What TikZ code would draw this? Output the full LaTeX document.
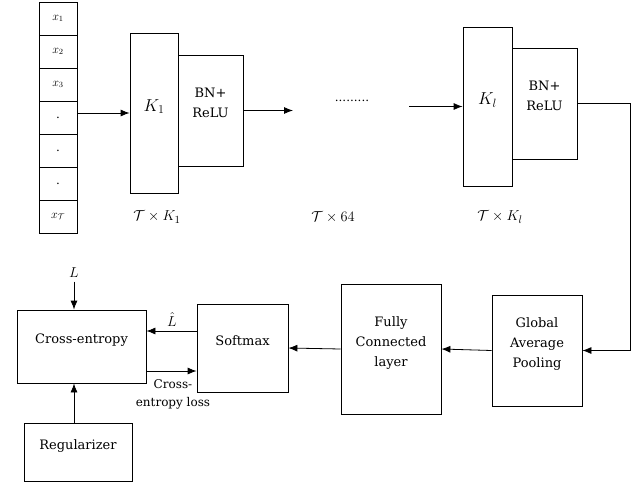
\documentclass[tikz,border=0pt]{standalone}
\usepackage{fontspec}
\setmainfont{DejaVu Serif}
\usetikzlibrary{arrows.meta}
\begin{document}
\begin{tikzpicture}[x=1pt,y=-1pt,line width=0.8pt,>={Latex[length=9pt,width=7pt]},
  box/.style={rectangle,draw=black,inner sep=0pt,align=center,text depth=15pt,font=\fontsize{13}{20}\selectfont},
  cell/.style={rectangle,draw=black,inner sep=0pt,minimum width=38pt,minimum height=33pt,font=\fontsize{12}{13}\selectfont},
  dim/.style={font=\fontsize{15}{17}\selectfont}]
\useasboundingbox (0,0) rectangle (641,485);
% input sequence
\node[cell] (c1) at (58,18.5) {$x_1$};
\node[cell] (c2) at (58,51.5) {$x_2$};
\node[cell] (c3) at (58,84.5) {$x_3$};
\node[cell] (c4) at (58,117.5) {.};
\node[cell] (c5) at (58,150.5) {.};
\node[cell] (c6) at (58,183.5) {.};
\node[cell] (c7) at (58,216.5) {$x_{\mathcal{T}}$};
% first block
\node[box,minimum width=48pt,minimum height=160pt] (k1) at (154,113) {\fontsize{17}{19}\selectfont$K_1$};
\node[box,minimum width=65pt,minimum height=111pt] (bn1) at (210.5,110.5) {BN+\\ReLU};
\draw[->] (c4.east |- 0,113) -- (k1.west |- 0,113);
\coordinate (mid) at (293,110.5);
\draw[->] (bn1.east) -- (mid);
\node[dim] (d1) at (157,217) {$\mathcal{T}\times K_1$};
% middle
\node[font=\fontsize{12}{14}\selectfont] (dots) at (352,101) {.........};
\node[dim] (d2) at (333,217) {$\mathcal{T}\times 64$};
% last block
\node[box,minimum width=49pt,minimum height=159pt] (kl) at (487.5,106.5) {\fontsize{17}{19}\selectfont$K_l$};
\node[box,minimum width=65pt,minimum height=111pt] (bn2) at (544.5,103.5) {BN+\\ReLU};
\coordinate (start) at (409,106.5);
\draw[->] (start) -- (kl.west);
\node[dim] (d3) at (500,217) {$\mathcal{T}\times K_l$};
% classifier
\node[box,minimum width=90pt,minimum height=111pt] (gap) at (537,350.5) {Global\\Average\\Pooling};
\node[box,minimum width=100pt,minimum height=130pt] (fc) at (391,349) {Fully\\Connected\\layer};
\node[box,minimum width=91pt,minimum height=88pt] (soft) at (242.5,348) {Softmax};
\node[box,minimum width=129pt,minimum height=73pt] (ce) at (81.5,346.5) {Cross-entropy};
\node[box,minimum width=108pt,minimum height=58pt] (reg) at (78,452) {Regularizer};
\coordinate (turn) at (630,0);
\draw[->] (bn2.east) -- (bn2.east -| turn) |- (gap.east);
\draw[->] (gap.west) -- (fc.east);
\draw[->] (fc.west) -- (soft.east);
\draw[->] ([yshift=17pt]soft.west) -- ([yshift=17pt]soft.west -| ce.east);
\node[dim,anchor=south,inner sep=1pt] (lhat) at (172,328) {$\hat{L}$};
\draw[->] ([yshift=-24.5pt]ce.east) -- ([yshift=-24.5pt]ce.east -| soft.west);
\node[align=center,font=\fontsize{12}{18}\selectfont] (loss) at (173,394) {Cross-\\entropy loss};
\node[dim] (lab) at (74,273) {$L$};
\draw[->] (lab.south) -- (lab.south |- ce.north);
\draw[->] (reg.north -| lab) -- (ce.south -| lab);
\end{tikzpicture}
\end{document}
